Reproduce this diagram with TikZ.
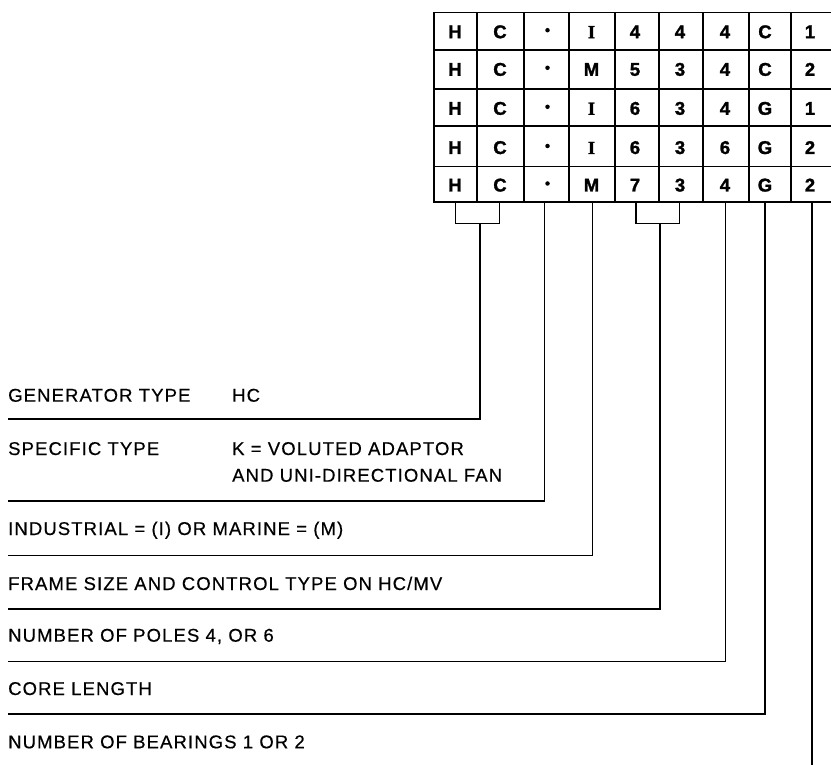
\documentclass[tikz,border=0pt]{standalone}
\usepackage{fontspec}
\setmainfont{Liberation Sans}
\newfontfamily\lblfont[LetterSpace=6,FakeBold=0.5]{Liberation Sans}
\newfontfamily\cellfont[FakeBold=1.5]{Liberation Sans}
\newfontfamily\serifb[FakeBold=1.5]{Liberation Serif}
\begin{document}
\begin{tikzpicture}[x=1pt,y=-1pt,
  tblline/.style={line width=1.9pt},
  leader/.style={line width=1.5pt},
  cell/.style={inner sep=0pt,text height=13pt,text depth=0pt,anchor=center,
     font=\fontsize{18.5}{21}\selectfont\cellfont\bfseries},
  dotcell/.style={circle,fill,inner sep=0pt,minimum size=4.5pt},
  lbl/.style={inner sep=0pt,anchor=base west,font=\fontsize{18.5}{22}\selectfont\lblfont}]
\useasboundingbox (0,0) rectangle (831,765);
% table grid
\draw[tblline] (434,12.5) rectangle (833,202);
\foreach \yy in {50,89,126,166.5}
  \draw[tblline] (434,\yy) -- (833,\yy);
\foreach \xx in {477.3,524,569,615,658.7,703.3,749.3,790.7}
  \draw[tblline] (\xx,12.5) -- (\xx,202);
% table cells
\foreach \r/\yy/\la/\lb/\lc/\ld/\le/\lf in
  {1/31.7/{\serifb I}/4/4/4/C/1,
   2/69.3/M/5/3/4/C/2,
   3/108.3/{\serifb I}/6/3/4/G/1,
   4/147.5/{\serifb I}/6/3/6/G/2,
   5/185/M/7/3/4/G/2}{
  \node[cell] (c\r-1) at (455,\yy) {H};
  \node[cell] (c\r-2) at (500,\yy) {C};
  \node[dotcell] (c\r-3) at (547.5,\yy-1.5) {};
  \node[cell] (c\r-4) at (591.5,\yy) {\la};
  \node[cell] (c\r-5) at (635,\yy) {\lb};
  \node[cell] (c\r-6) at (680,\yy) {\lc};
  \node[cell] (c\r-7) at (725,\yy) {\ld};
  \node[cell] (c\r-8) at (765,\yy) {\le};
  \node[cell] (c\r-9) at (810,\yy) {\lf};
}
% labels
\node[lbl] (gen) at (8,401.7) {GENERATOR TYPE};
\node[lbl] (genv) at (232,401.7) {HC};
\node[lbl] (spec) at (8,455) {SPECIFIC TYPE};
\node[lbl] (speca) at (232,455) {K = VOLUTED ADAPTOR};
\node[lbl] (specb) at (232,481.7) {AND UNI-DIRECTIONAL FAN};
\node[lbl] (ind) at (8,535) {INDUSTRIAL = (I) OR MARINE = (M)};
\node[lbl] (frame) at (8,590) {FRAME SIZE AND CONTROL TYPE ON HC/MV};
\node[lbl] (poles) at (8,641.7) {NUMBER OF POLES 4, OR 6};
\node[lbl] (core) at (8,695) {CORE LENGTH};
\node[lbl] (bear) at (8,748.3) {NUMBER OF BEARINGS 1 OR 2};
% leader coordinates
\coordinate (ba1) at (455.7,202);
\coordinate (bb1) at (499.3,202);
\coordinate (s1) at (480,223.3);
\coordinate (e1) at (8,419);
\coordinate (s2) at (544.3,202);
\coordinate (e2) at (8,501);
\coordinate (s3) at (592.7,202);
\coordinate (e3) at (8,555.5);
\coordinate (ba4) at (636,202);
\coordinate (bb4) at (679.3,202);
\coordinate (s4) at (660,223.3);
\coordinate (e4) at (8,609);
\coordinate (s5) at (725.7,202);
\coordinate (e5) at (8,661.5);
\coordinate (s6) at (765,202);
\coordinate (e6) at (8,714);
\coordinate (s7) at (812,202);
\coordinate (e7) at (812,765);
% leaders
\draw[leader] (ba1) |- (s1) -| (bb1);
\draw[leader] (s1) |- (e1);
\draw[leader] (s2) |- (e2);
\draw[leader] (s3) |- (e3);
\draw[leader] (ba4) |- (s4) -| (bb4);
\draw[leader] (s4) |- (e4);
\draw[leader] (s5) |- (e5);
\draw[leader] (s6) |- (e6);
\draw[leader] (s7) -- (e7);
\end{tikzpicture}
\end{document}
